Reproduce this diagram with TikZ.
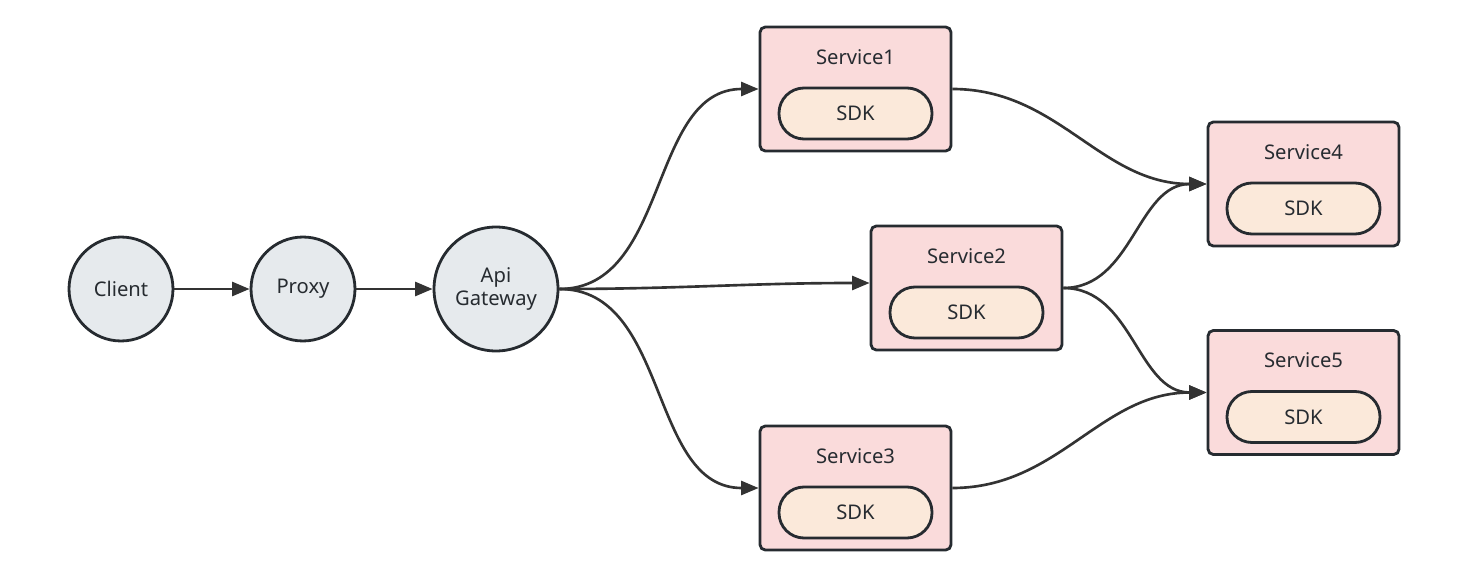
\documentclass[tikz,border=0pt]{standalone}
\usepackage{fontspec}
\setmainfont{Noto Sans}
\usepackage{tikz}
\usetikzlibrary{arrows.meta, positioning}
\definecolor{nodegray}{RGB}{230, 234, 237}
\definecolor{inkdark}{RGB}{38, 43, 48}
\definecolor{svcpink}{RGB}{250, 219, 219}
\definecolor{sdkcream}{RGB}{251, 233, 218}
\definecolor{linkgray}{RGB}{51, 51, 51}

\begin{document}
\begin{tikzpicture}[x=0.02cm, y=-0.02cm, font=\fontsize{11.5pt}{13.5pt}\selectfont,
    endpoint/.style={circle, draw=inkdark, fill=nodegray, line width=1.6pt, minimum size=2.08cm, inner sep=0pt, align=center, text=inkdark},
    service/.style={draw=inkdark, fill=svcpink, line width=1.6pt, rounded corners=3pt, minimum width=3.82cm, minimum height=2.48cm},
    sdkbox/.style={draw=inkdark, fill=sdkcream, line width=1.6pt, rounded corners=0.5cm, minimum width=3.06cm, minimum height=1.02cm, text=inkdark},
    svcname/.style={text=inkdark},
    link/.style={draw=linkgray, line width=1.5pt, -{Triangle[length=10pt, width=8pt]}}]
  \useasboundingbox (0,0) rectangle (1483,581);
  \node[endpoint] (client) at (121,289) {Client};
  \node[endpoint] (proxy) at (303,289) {Proxy};
  \node[endpoint, minimum size=2.48cm] (gateway) at (496,289) {Api\\Gateway};

  \node[service] (s1) at (855.5,89) {};
  \node[svcname, yshift=0.64cm] (s1name) at (s1) {Service1};
  \node[sdkbox, yshift=-0.49cm] (s1sdk) at (s1) {SDK};

  \node[service] (s2) at (966.5,288) {};
  \node[svcname, yshift=0.64cm] (s2name) at (s2) {Service2};
  \node[sdkbox, yshift=-0.49cm] (s2sdk) at (s2) {SDK};

  \node[service] (s3) at (855.5,488) {};
  \node[svcname, yshift=0.64cm] (s3name) at (s3) {Service3};
  \node[sdkbox, yshift=-0.49cm] (s3sdk) at (s3) {SDK};

  \node[service] (s4) at (1303.5,184) {};
  \node[svcname, yshift=0.64cm] (s4name) at (s4) {Service4};
  \node[sdkbox, yshift=-0.49cm] (s4sdk) at (s4) {SDK};

  \node[service] (s5) at (1303.5,392.5) {};
  \node[svcname, yshift=0.64cm] (s5name) at (s5) {Service5};
  \node[sdkbox, yshift=-0.49cm] (s5sdk) at (s5) {SDK};

  % request path
  \draw[link] (client) -- (proxy);
  \draw[link] (proxy.east) to[out=0, in=180] (gateway.west);
  \draw[link] (gateway.east) to[out=0, in=180] (s1.west);
  \draw[link] (gateway.east) to[out=0, in=180] ([yshift=0.1cm]s2.west);
  \draw[link] (gateway.east) to[out=0, in=180] (s3.west);
  % calls between services
  \draw[link] (s1.east) to[out=0, in=180] (s4.west);
  \draw[link] (s2.east) to[out=0, in=180] (s4.west);
  \draw[link] (s2.east) to[out=0, in=180] (s5.west);
  \draw[link] (s3.east) to[out=0, in=180] (s5.west);
\end{tikzpicture}
\end{document}
